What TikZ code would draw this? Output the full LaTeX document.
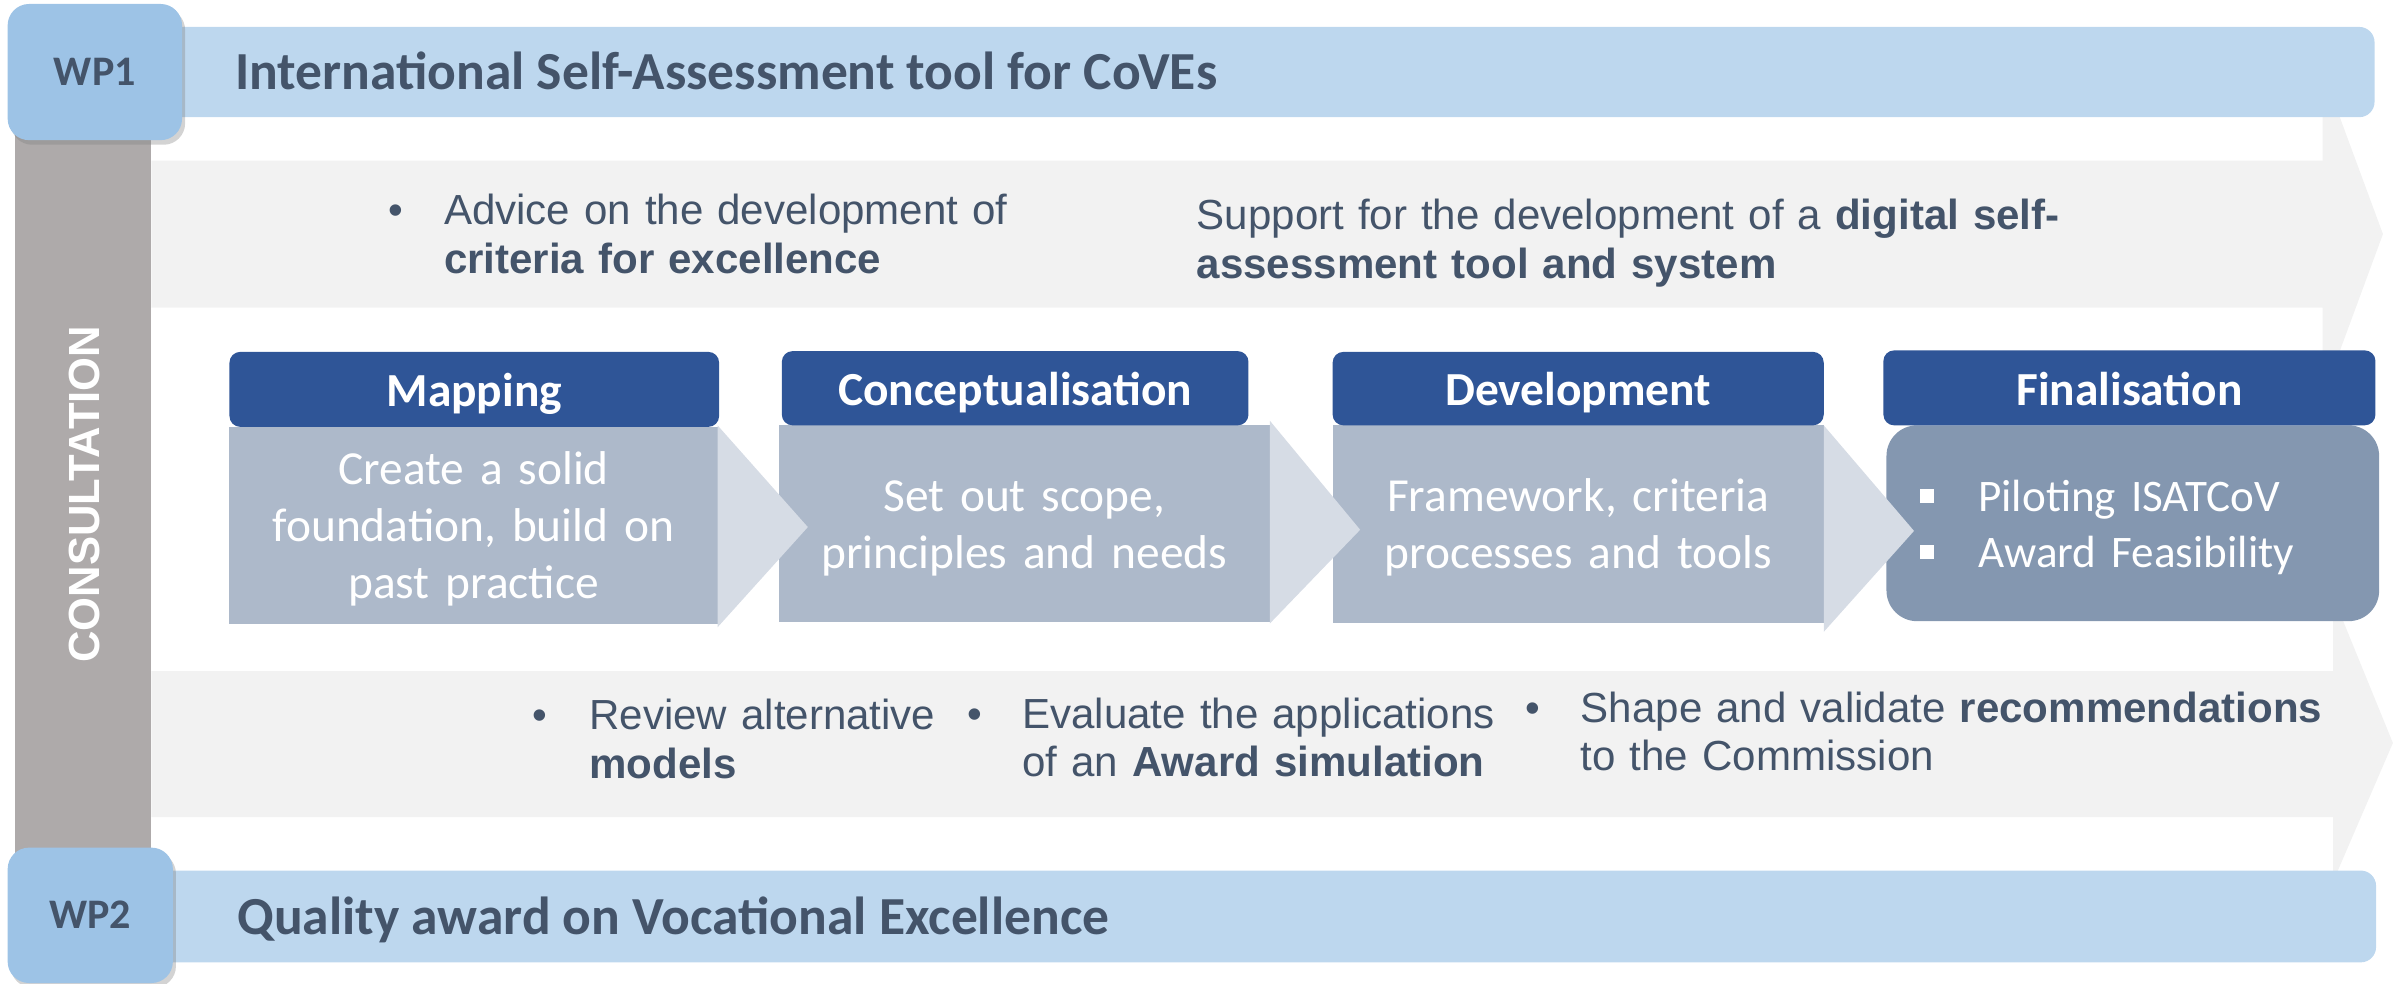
\documentclass[tikz,border=0pt]{standalone}
\usepackage{fontspec}
\setmainfont{Carlito}
\newfontfamily\arialfont{Liberation Sans}
\usetikzlibrary{shadows,calc}
\definecolor{barblue}{HTML}{BDD7EE}
\definecolor{wpblue}{HTML}{9DC3E6}
\definecolor{consgray}{HTML}{AEAAAA}
\definecolor{bandgray}{HTML}{F2F2F2}
\definecolor{headblue}{HTML}{2F5597}
\definecolor{bodyblue}{HTML}{ADB9CA}
\definecolor{chevblue}{HTML}{D6DCE5}
\definecolor{finblue}{HTML}{8497B0}
\definecolor{slate}{HTML}{44546A}
\newcommand\myTitleFont{\fontsize{35}{42}\bfseries\selectfont}
\newcommand\myWpFont{\fontsize{27.5}{32}\bfseries\selectfont}
\newcommand\myHeadFont{\fontsize{31}{37.4}\bfseries\selectfont}
\newcommand\myBodyFont{\fontsize{31}{37.4}\selectfont}
\newcommand\myFinFont{\fontsize{29.5}{37}\selectfont}
\newcommand\myBandFont{\arialfont\fontsize{27.5}{31.7}\selectfont}
\newcommand\myConsFont{\arialfont\fontsize{28.5}{34}\bfseries\selectfont}
\newcommand\finbullet{\hspace*{22pt}\rule[5.5pt]{9pt}{9pt}\hspace{29pt}}
\begin{document}
\begin{tikzpicture}[x=1pt,y=-1pt,
  box/.style={anchor=north west, inner sep=0pt, outer sep=0pt},
  wpbar/.style={box, fill=barblue, rounded corners=10pt},
  wpbox/.style={box, fill=wpblue, rounded corners=14pt, text=slate, font=\myWpFont,
    text height=17.5pt, text depth=0pt,
    drop shadow={shadow xshift=2pt, shadow yshift=-3pt, opacity=0.35}},
  consbar/.style={box, fill=consgray},
  band/.style={fill=bandgray},
  header/.style={box, fill=headblue, rounded corners=7pt, text=white, font=\myHeadFont,
    text height=22.5pt, text depth=0pt},
  stepbody/.style={box, fill=bodyblue, text=white, font=\myBodyFont, align=center,
    text height=21pt},
  finbody/.style={box, fill=finblue, rounded corners=20pt, text=white, font=\myFinFont,
    align=left, text height=21pt, text depth=37pt},
  chev/.style={fill=chevblue},
  bandtext/.style={anchor=base west, inner sep=0pt, text=slate, font=\myBandFont, align=left},
  title/.style={anchor=base west, inner sep=0pt, text=slate, font=\myTitleFont},
]
\path[use as bounding box] (0,0) rectangle (1568,643);

% arrow bands
\fill[band] (99,105) -- (1518,105) -- (1518,46) -- (1557.5,153) -- (1518,260)
  -- (1518,201) -- (99,201) -- cycle;
\fill[band] (99,438.6) -- (1525,438.6) -- (1525,390) -- (1564,485.6) -- (1525,576)
  -- (1525,534) -- (99,534) -- cycle;

% consultation bar
\node[consbar, minimum width=89, minimum height=470] (cons) at (10,88) {};
\node[rotate=90, text=white, font=\myConsFont, inner sep=0pt] (constext) at (55.5,323) {CONSULTATION};

% WP bars
\node[wpbar, minimum width=1452, minimum height=59] (bar1) at (100,17.6) {};
\node[wpbar, minimum width=1453, minimum height=60] (bar2) at (100,569) {};
\node[wpbox, minimum width=114, minimum height=89] (wp1) at (5,2.6) {WP1};
\node[wpbox, minimum width=108, minimum height=88.5] (wp2) at (5,554) {WP2};
\node[title] (t1) at (153.4,58.4) {International Self-Assessment tool for CoVEs};
\node[title] (t2) at (155,611) {Quality award on Vocational Excellence};

% step bodies
\node[stepbody, minimum width=319, minimum height=129, text width=319, text depth=74.8pt] (b1) at (150,279)
  {Create a solid\\foundation, build on\\past practice};
\node[stepbody, minimum width=321, minimum height=128.5, text width=321, text depth=37.4pt] (b2) at (509,278)
  {Set out scope,\\principles and needs};
\node[stepbody, minimum width=321, minimum height=129, text width=321, text depth=37.4pt] (b3) at (871,278)
  {Framework, criteria\\processes and tools};
\node[finbody, minimum width=322, minimum height=128, text width=322] (b4) at (1233,278)
  {\finbullet Piloting ISATCoV\\\finbullet Award Feasibility};

% chevrons
\fill[chev] ($(b1.north east)+(0,-1)$) -- ($(b1.east)+(59,1)$) -- ($(b1.south east)+(0,2)$) -- cycle;
\fill[chev] ($(b2.north east)+(0,-3)$) -- ($(b2.east)+(59,4)$) -- ($(b2.south east)+(0,1)$) -- cycle;
\fill[chev] ($(b3.north east)+(0,0)$) -- ($(b3.east)+(59,4.5)$) -- ($(b3.south east)+(0,6)$) -- cycle;

% headers
\node[header, minimum width=320, minimum height=49] (h1) at (150,230) {Mapping};
\node[header, minimum width=305, minimum height=48.5] (h2) at (511,229.5) {Conceptualisation};
\node[header, minimum width=321, minimum height=48] (h3) at (871,230) {Development};
\node[header, minimum width=321.6, minimum height=49] (h4) at (1231,229) {Finalisation};

% band texts
\node[bandtext] (blt1) at (254,147) {•};
\node[bandtext, text width=400] (adv) at (290,147)
  {Advice on the development of\\\textbf{criteria for excellence}};
\node[bandtext, text width=600] (sup) at (782,150)
  {Support for the development of a \textbf{digital self-}\\\textbf{assessment tool and system}};
\node[bandtext] (blt2) at (348,477) {•};
\node[bandtext, text width=260] (rev) at (385,477) {Review alternative\\\textbf{models}};
\node[bandtext] (blt3) at (632,476) {•};
\node[bandtext, text width=330] (eva) at (668,476)
  {Evaluate the applications\\of an \textbf{Award simulation}};
\node[bandtext] (blt4) at (997,472) {•};
\node[bandtext, text width=520] (sha) at (1033,472)
  {Shape and validate \textbf{recommendations}\\to the Commission};
\end{tikzpicture}
\end{document}
